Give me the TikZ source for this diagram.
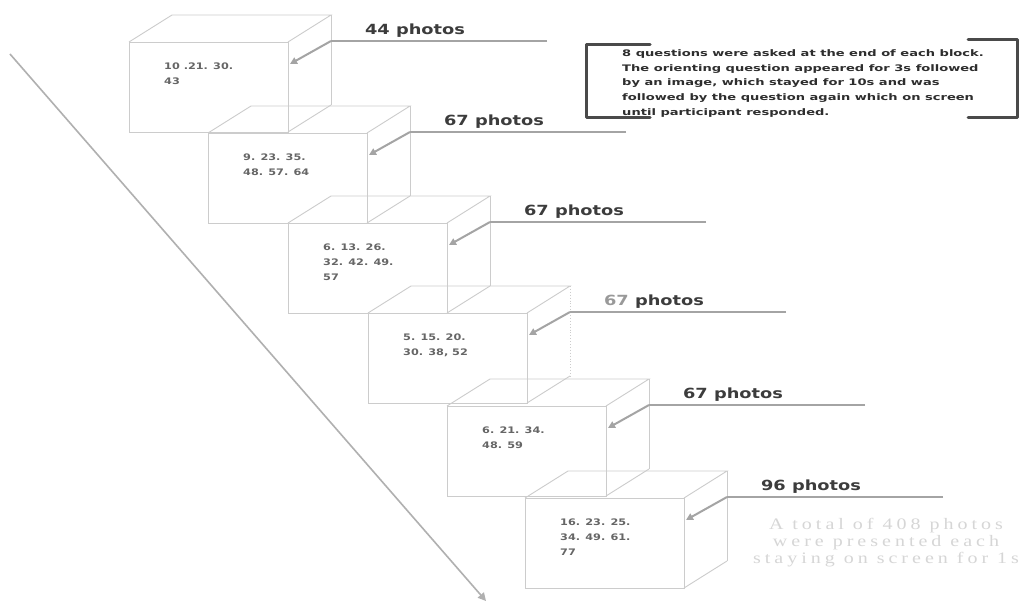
\documentclass[tikz,border=0pt]{standalone}
\usepackage{fontspec}
\usepackage{graphicx}
\usetikzlibrary{arrows.meta}
\setmainfont{DejaVu Sans}
\newfontfamily\totalfont[LetterSpace=20]{Liberation Serif}
\definecolor{boxgray}{HTML}{CCCCCC}
\definecolor{feedgray}{HTML}{A4A4A4}
\definecolor{labelgray}{HTML}{3C3C3C}
\definecolor{numgray}{HTML}{666666}
\definecolor{notegray}{HTML}{2E2E2E}
\definecolor{brackgray}{HTML}{4A4A4A}
\definecolor{totalgray}{HTML}{D6D6D6}
\definecolor{linegray}{HTML}{B0B0B0}
\tikzset{
  boxline/.style={draw=boxgray, line width=0.9pt},
  feedline/.style={draw=feedgray, line width=2.2pt},
  feedarrow/.style={draw=feedgray, line width=2pt, -{Triangle[length=7pt,width=7pt]}},
  timeline/.style={draw=linegray, line width=1.6pt, -{Triangle[length=8pt,width=8pt]}},
  boxtext/.style={inner sep=0pt, text=numgray, font=\bfseries\fontsize{9}{15}\selectfont},
  photolabel/.style={inner sep=0pt, text=labelgray, font=\bfseries\fontsize{14}{16}\selectfont},
  bracketline/.style={draw=brackgray, line width=3pt, line join=round, line cap=round},
}
% id, L, T, numbers, label, style of back right edge
\newcommand\stepblock[6]{%
  \coordinate (#1a) at (#2,#3);
  \coordinate (#1b) at (#2+159,#3);
  \coordinate (#1c) at (#2+159,#3+90);
  \coordinate (#1d) at (#2,#3+90);
  \coordinate (#1e) at (#2+43,#3-27);
  \coordinate (#1f) at (#2+202,#3-27);
  \coordinate (#1g) at (#2+202,#3+63);
  \draw[boxline] (#1a) -- (#1b) -- (#1c) -- (#1d) -- cycle;
  \draw[boxline] (#1a) -- (#1e) -- (#1f) -- (#1b);
  \draw[#6] (#1f) -- (#1g);
  \draw[boxline] (#1g) -- (#1c);
  \node[boxtext, anchor=north west] (#1t) at (#2+35,#3+17)
    {\scalebox{1.25}[1]{\begin{tabular}{@{}l@{}}#4\end{tabular}}};
  \coordinate (#1k) at (#2+202,#3-1);
  \coordinate (#1h) at (#2+418,#3-1);
  \coordinate (#1p) at (#2+161,#3+22);
  \draw[feedline] (#1h) -- (#1k);
  \draw[feedarrow] (#1k) -- (#1p);
  \node[photolabel] (#1l) at (#2+286,#3-11) {\scalebox{1.27}[1]{#5}};
}
\begin{document}
\begin{tikzpicture}[x=1pt,y=-1pt]
\useasboundingbox[fill=white] (0,0) rectangle (1022,607);
% timeline
\coordinate (ds) at (10,54);
\coordinate (de) at (486,601);
\draw[timeline] (ds) -- (de);
% blocks
\stepblock{b1}{129}{42}{10 .21. 30.\\43}{44 photos}{boxline}
\stepblock{b2}{208}{133}{9. 23. 35.\\48. 57. 64}{67 photos}{boxline}
\stepblock{b3}{288}{223}{6. 13. 26.\\32. 42. 49.\\57}{67 photos}{boxline}
\stepblock{b4}{368}{313}{5. 15. 20.\\30. 38, 52}{\textcolor{gray!80}{67} photos}{boxline,dotted}
\stepblock{b5}{447}{406}{6. 21. 34.\\48. 59}{67 photos}{boxline}
\stepblock{b6}{525}{498}{16. 23. 25.\\34. 49. 61.\\77}{96 photos}{boxline}
% note with brackets
\node[inner sep=0pt, anchor=north west, text=notegray, font=\bfseries\fontsize{9}{14.7}\selectfont] (note) at (622,46)
  {\scalebox{1.45}[1]{\begin{tabular}{@{}l@{}}8 questions were asked at the end of each block.\\The orienting question appeared for 3s followed\\by an image, which stayed for 10s and was\\followed by the question again which on screen\\until participant responded.\end{tabular}}};
\draw[bracketline] (650,45) -- (586,45) -- (586,118) -- (650,118);
\draw[bracketline] (968,40) -- (1017,40) -- (1017,118) -- (968,118);
% total text
\node[inner sep=0pt, text=totalgray, font=\totalfont\fontsize{16}{16.7}\selectfont] (total) at (886,543)
  {\scalebox{1.25}[1]{\begin{tabular}{@{}c@{}}A total of 408 photos\\were presented each\\staying on screen for 1s\end{tabular}}};
\end{tikzpicture}
\end{document}
